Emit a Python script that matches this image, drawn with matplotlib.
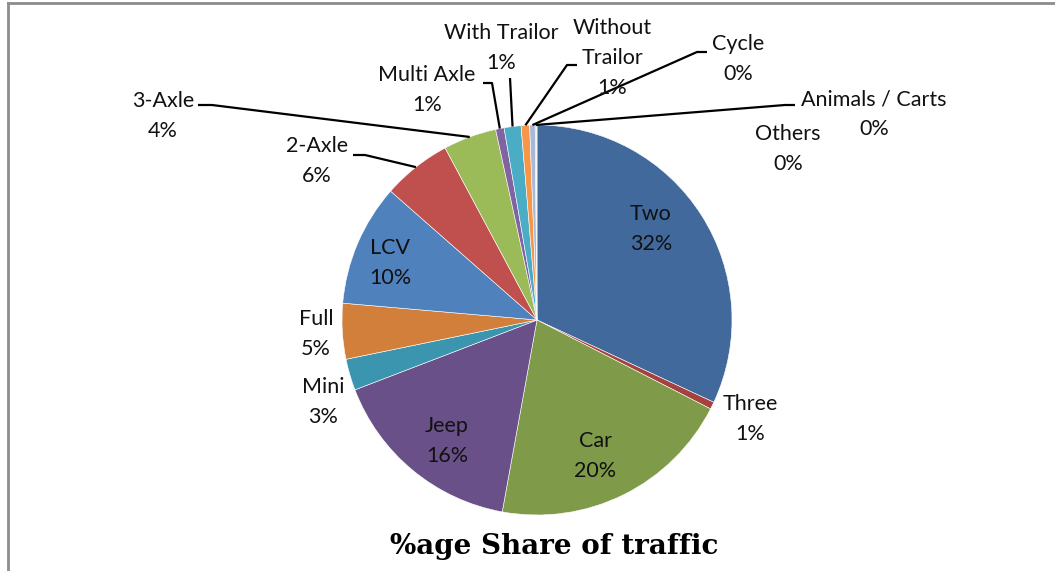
import numpy as np
import matplotlib
matplotlib.use("Agg")
import matplotlib.pyplot as plt

# vehicle classes and their share of traffic
categories = ["Two", "Three", "Car", "Jeep", "Mini", "Full", "LCV", "2-Axle",
              "3-Axle", "Multi Axle", "With Trailor", "Without\nTrailor",
              "Cycle", "Animals / Carts", "Others"]
shares = [31.9, 0.6, 20.3, 16.3, 2.6, 4.6, 10.1, 5.7,
          4.4, 0.7, 1.4, 0.7, 0.45, 0.08, 0.07]
colors = ["#41699B", "#A5423F", "#7F9B4A", "#6A5088", "#3C95AE", "#D27F3B",
          "#4F81BD", "#C0504D", "#9BBB59", "#8064A2", "#4BACC6", "#F79646",
          "#A9B8DA", "#DBA9A8", "#C8DBA4"]

# label centres in pixels (x, y from top)
label_pos = {
    "Two": (651, 229), "Three": (750, 419), "Car": (595, 456), "Jeep": (447, 441),
    "Mini": (323, 402), "Full": (316, 334), "LCV": (390, 263), "2-Axle": (317, 161),
    "3-Axle": (163, 116), "Multi Axle": (427, 90), "With Trailor": (501, 48),
    "Without\nTrailor": (612, 58), "Cycle": (738, 59), "Animals / Carts": (874, 114),
    "Others": (788, 149),
}
# leader line start (label side) and elbow length
leaders = {
    "2-Axle": (353, 155, 12), "3-Axle": (198, 105, 14), "Multi Axle": (483, 83, 9),
    "With Trailor": (510, 78, 0), "Without\nTrailor": (577, 65, -10),
    "Cycle": (707, 52, -10), "Animals / Carts": (795, 105, -10),
}

W, H = 1055, 571
cx, cy, r = 537, 320, 195

fig = plt.figure(figsize=(W / 100, H / 100), dpi=100)
ax = fig.add_axes([0, 0, 1, 1])

wedges, _ = ax.pie(shares, colors=colors, startangle=90, counterclock=False,
                   center=(cx, H - cy), radius=r, frame=True,
                   wedgeprops=dict(edgecolor="white", linewidth=0.4))
ax.set_xlim(0, W)
ax.set_ylim(0, H)
ax.axis("off")

total = sum(shares)
for cat, val, w in zip(categories, shares, wedges):
    x, y = label_pos[cat]
    pct = f"{round(val / total * 100)}%"
    ax.text(x, H - y, f"{cat}\n{pct}", ha="center", va="center", fontsize=15.5,
            family="Lato", linespacing=1.6, color="#111111")
    if cat in leaders:
        lx, ly, elbow = leaders[cat]
        ang = np.deg2rad((w.theta1 + w.theta2) / 2)
        ex = cx + r * np.cos(ang)
        ey = (H - cy) + r * np.sin(ang)
        if elbow == 0:
            xs, ys = [lx, ex], [H - ly, ey]
        else:
            xs, ys = [lx, lx + elbow, ex], [H - ly, H - ly, ey]
        ax.plot(xs, ys, color="black", lw=1.6, solid_capstyle="butt")

# title
ax.text(554, H - 547, "%age Share of traffic", ha="center", va="center",
        fontsize=20, fontweight="bold", family="DejaVu Serif")

# chart border (only top and left visible in the crop)
ax.plot([8, 8], [0, H - 3], color="#8C8C8C", lw=2)
ax.plot([8, W], [H - 3, H - 3], color="#8C8C8C", lw=2)

fig.savefig("out.png", dpi=100)
